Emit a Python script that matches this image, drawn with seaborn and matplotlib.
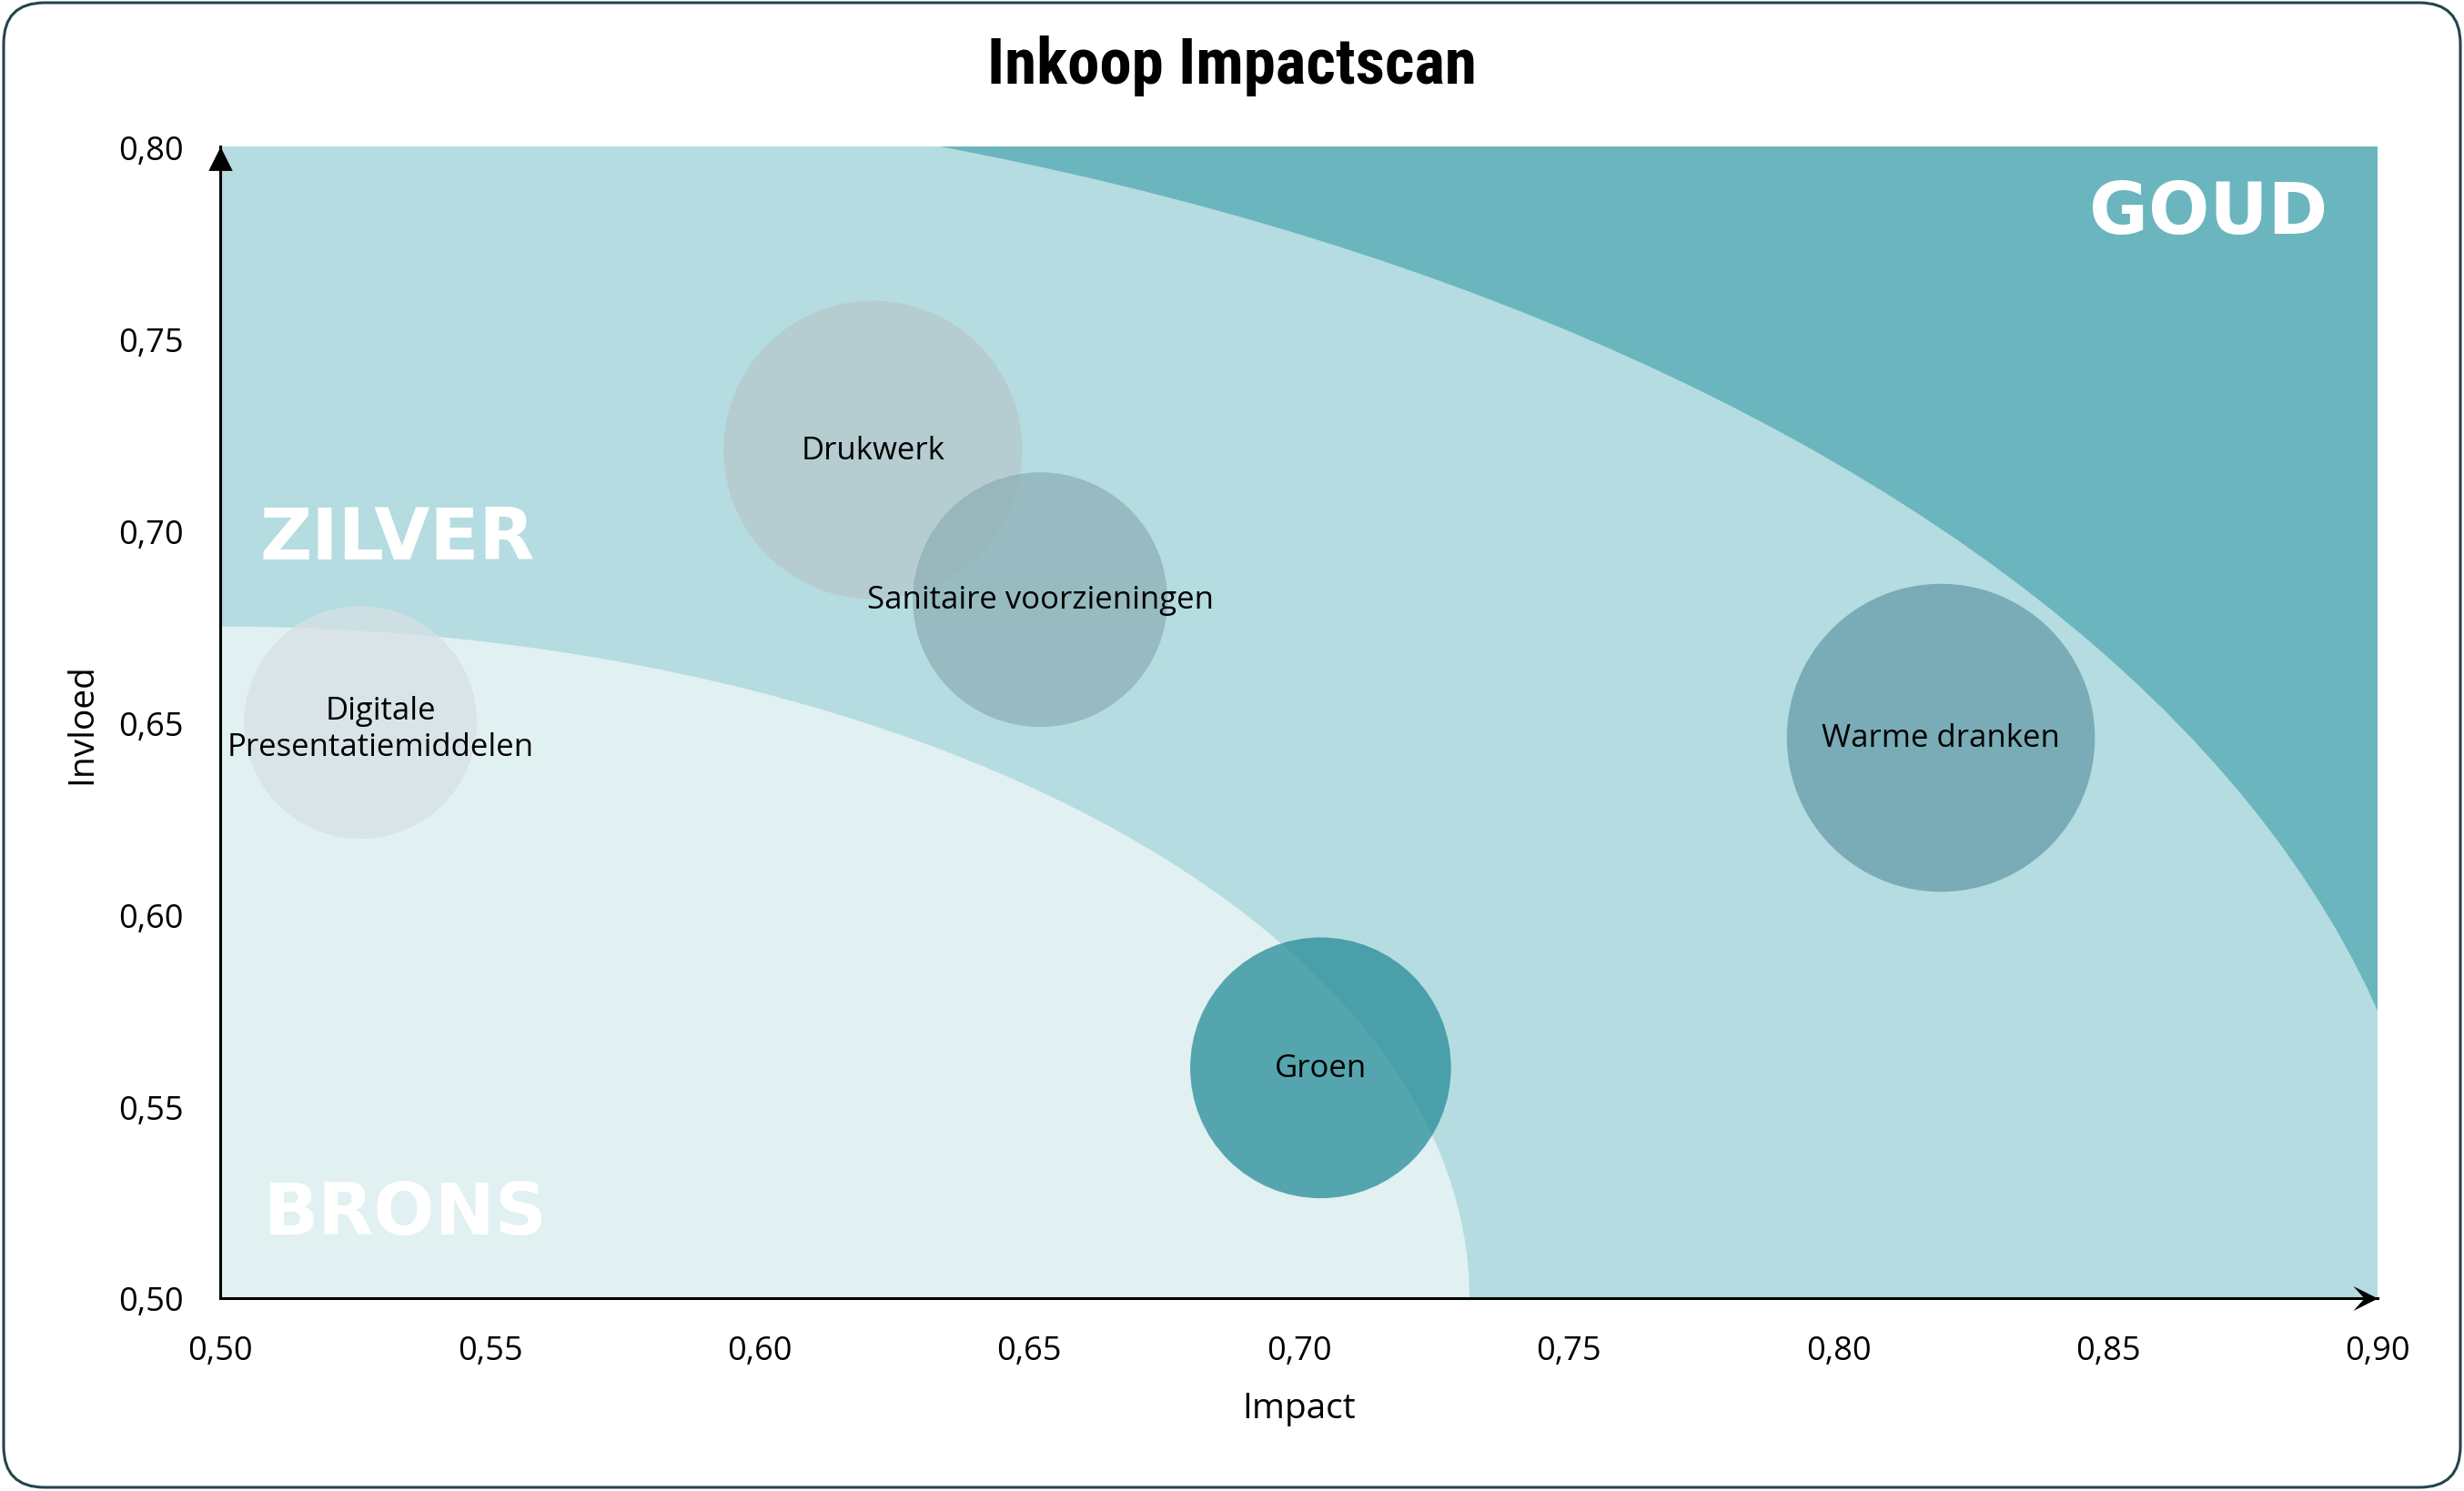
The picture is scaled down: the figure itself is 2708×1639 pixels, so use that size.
import numpy as np
import pandas as pd
import matplotlib
matplotlib.use("Agg")
import matplotlib.pyplot as plt
import matplotlib.transforms as mtransforms
import seaborn as sns
from matplotlib import font_manager
from matplotlib.patches import Ellipse, FancyBboxPatch
from matplotlib.path import Path
from matplotlib.ticker import FixedLocator, FuncFormatter

# --- data ---------------------------------------------------------------
categorieen = [
    "Digitale\nPresentatiemiddelen",
    "Drukwerk",
    "Sanitaire voorzieningen",
    "Warme dranken",
    "Groen",
]
impact = [0.526, 0.621, 0.652, 0.819, 0.704]
invloed = [0.650, 0.721, 0.682, 0.646, 0.560]
omvang = [3.39, 5.58, 4.06, 5.94, 4.26]

x_ticks = [0.50, 0.55, 0.60, 0.65, 0.70, 0.75, 0.80, 0.85, 0.90]
y_ticks = [0.50, 0.55, 0.60, 0.65, 0.70, 0.75, 0.80]

zones = ["GOUD", "ZILVER", "BRONS"]

# --- styling ------------------------------------------------------------
sns.set_style("white")
plt.rcParams["font.family"] = ["Open Sans", "DejaVu Sans"]

kleur_goud = "#6BB6BE"
kleur_zilver = "#B5DCE0"
kleur_brons = "#E1F0F1"

bubbel_kleuren = {
    "Digitale\nPresentatiemiddelen": "#D6E1E4",
    "Drukwerk": "#B5C8CC",
    "Sanitaire voorzieningen": "#8DB0B7",
    "Warme dranken": "#659DA8",
    "Groen": "#268C98",
}
label_offset = {"Digitale\nPresentatiemiddelen": (16, -5)}

df = pd.DataFrame({
    "categorie": categorieen,
    "impact": impact,
    "invloed": invloed,
    "omvang": omvang,
})
bubbel_schaal = 1.0e4
sizes = {c: v * bubbel_schaal for c, v in zip(df["categorie"], df["omvang"])}

# condensed bold face for the title, if one is installed
namen = {f.name for f in font_manager.fontManager.ttflist}
titel_familie = ["DejaVu Sans"]
titel_grootte = 40
for kandidaat in ["Liberation Sans Narrow", "Roboto Condensed", "DejaVu Sans Condensed"]:
    if kandidaat in namen:
        titel_familie = [kandidaat, "DejaVu Sans"]
        titel_grootte = 51
        break

fig = plt.figure(figsize=(27.08, 16.40), dpi=100)
fig.patch.set_facecolor("white")
ax = fig.add_axes([0.0894, 0.1293, 0.8756, 0.7717])

# zone backgrounds: gold everywhere, silver and bronze as quarter ellipses
ax.set_facecolor(kleur_goud)
ax.add_patch(Ellipse((0.5, 0.5), 2 * 0.4116, 2 * 0.3172,
                     facecolor=kleur_zilver, edgecolor="none", zorder=0.1))
ax.add_patch(Ellipse((0.5, 0.5), 2 * 0.2316, 2 * 0.175,
                     facecolor=kleur_brons, edgecolor="none", zorder=0.2))

# bubbles
sns.scatterplot(
    data=df, x="impact", y="invloed",
    hue="categorie", palette=bubbel_kleuren,
    size="categorie", sizes=sizes,
    alpha=0.75, linewidth=0, legend=False, ax=ax, zorder=2,
)

for _, r in df.iterrows():
    ax.annotate(
        r["categorie"], (r["impact"], r["invloed"]),
        xytext=label_offset.get(r["categorie"], (0, 0)),
        textcoords="offset points",
        ha="center", va="center", multialignment="center",
        fontsize=25, color="black", zorder=4,
    )

# zone names
zone_font = dict(family=["DejaVu Sans"], fontsize=57, fontweight="bold",
                 color="white", zorder=1.5)
ax.text(0.8907, 0.7828, zones[0], ha="right", va="center", **zone_font)
ax.text(0.5073, 0.698, zones[1], ha="left", va="center", **zone_font)
ax.text(0.508, 0.522, zones[2], ha="left", va="center", **zone_font)

# axes
ax.set_xlim(x_ticks[0], x_ticks[-1])
ax.set_ylim(y_ticks[0], y_ticks[-1])
ax.xaxis.set_major_locator(FixedLocator(x_ticks))
ax.yaxis.set_major_locator(FixedLocator(y_ticks))
komma = FuncFormatter(lambda v, _: f"{v:.2f}".replace(".", ","))
ax.xaxis.set_major_formatter(komma)
ax.yaxis.set_major_formatter(komma)
ax.tick_params(axis="both", length=0, pad=29, labelsize=26, labelcolor="black")
ax.grid(False)

for side in ["top", "right"]:
    ax.spines[side].set_visible(False)
for side in ["left", "bottom"]:
    ax.spines[side].set_color("black")
    ax.spines[side].set_linewidth(2.2)
    ax.spines[side].set_zorder(5)

# arrow heads on the axes
stealth = Path([(0, 0), (-1, 0.5), (-0.55, 0), (-1, -0.5), (0, 0)],
               [Path.MOVETO, Path.LINETO, Path.LINETO, Path.LINETO, Path.CLOSEPOLY])
driehoek = Path([(0, 0), (-0.5, -1), (0.5, -1), (0, 0)],
                [Path.MOVETO, Path.LINETO, Path.LINETO, Path.CLOSEPOLY])
ax.plot(1, 0, marker=stealth, ms=39, color="black", mew=0, linestyle="none",
        transform=ax.transAxes, clip_on=False, zorder=6)
ax.plot(0, 1, marker=driehoek, ms=38, color="black", mew=0, linestyle="none",
        transform=ax.transAxes, clip_on=False, zorder=6)

ax.set_xlabel("Impact", fontsize=28, color="black")
ax.set_ylabel("Invloed", fontsize=28, color="black")
ax.xaxis.set_label_coords(0.5, -0.0956)
ax.xaxis.label.set_va("center")
ax.yaxis.set_label_coords(-0.0641, 0.5)
ax.yaxis.label.set_va("center")

fig.text(0.5, 0.956, "Inkoop Impactscan", ha="center", va="center",
         family=titel_familie, fontsize=titel_grootte, fontweight="bold",
         color="black")

# rounded outer frame
frame = FancyBboxPatch((4, 4), 2700, 1632,
                       boxstyle="round,pad=0,rounding_size=45",
                       transform=mtransforms.IdentityTransform(),
                       fill=False, edgecolor="#25454B", linewidth=2.2)
fig.add_artist(frame)

fig.savefig("out.png", dpi=100, facecolor="white")
